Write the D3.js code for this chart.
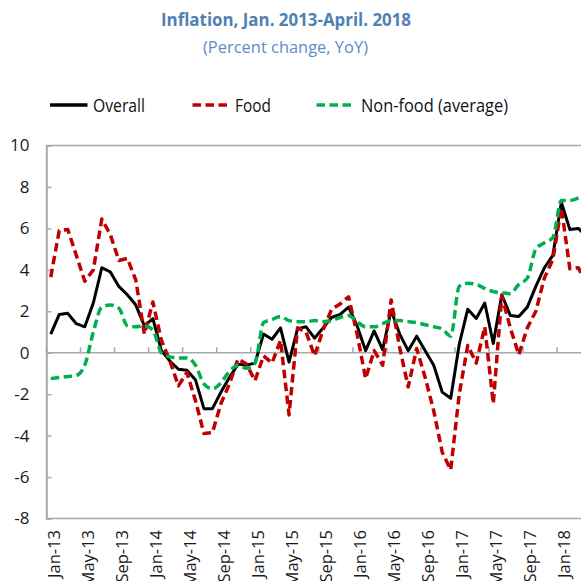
<!DOCTYPE html>
<html>
<head>
<meta charset="utf-8">
<script src="https://cdn.jsdelivr.net/npm/d3@7"></script>
<style>
  body { margin: 0; background: #fff; }
  svg { display: block; font-family: "Open Sans", sans-serif; }
</style>
</head>
<body>
<figure id="chart" style="margin:0"></figure>
<script>
// months Jan-13 .. Apr-18
const months = d3.timeMonths(new Date(2013, 0, 1), new Date(2018, 4, 1)).map(d3.timeFormat("%b-%y"));
const tickLabels = ["Jan-13", "May-13", "Sep-13", "Jan-14", "May-14", "Sep-14", "Jan-15", "May-15",
  "Sep-15", "Jan-16", "May-16", "Sep-16", "Jan-17", "May-17", "Sep-17", "Jan-18"];

const overall = [0.9, 1.85, 1.9, 1.4, 1.25, 2.4, 4.1, 3.9, 3.2, 2.8, 2.3, 1.3, 1.65, 0.1, -0.4, -0.8,
  -0.85, -1.3, -2.7, -2.7, -1.9, -1.2, -0.55, -0.6, -0.5, 0.9, 0.65, 1.2, -0.45, 1.15, 1.25, 0.7,
  1.2, 1.7, 1.85, 2.2, 1.3, 0.1, 1.05, 0.15, 2.05, 0.9, 0.1, 0.8, 0.1, -0.6, -1.9, -2.2,
  0.4, 2.1, 1.65, 2.4, 0.45, 2.8, 1.8, 1.75, 2.2, 3.2, 4.1, 4.7, 7.25, 5.95, 6.0, 5.6];
const food = [3.65, 5.9, 5.95, 4.7, 3.45, 4.0, 6.45, 5.7, 4.45, 4.55, 3.5, 0.9, 2.45, 0.6, -0.4, -1.6,
  -0.95, -2.3, -3.9, -3.85, -2.45, -1.5, -0.3, -0.55, -1.35, -0.15, -0.5, 0.6, -3.0, 1.2, 1.0, -0.15,
  1.1, 2.1, 2.35, 2.7, 0.9, -1.25, 0.1, -0.6, 2.55, 0.25, -1.65, 0.2, -1.2, -2.8, -4.8, -5.65,
  -2.0, 0.35, -0.5, 1.25, -2.45, 2.75, 1.2, -0.1, 1.2, 2.0, 3.6, 4.5, 7.0, 4.05, 4.1, 3.3];
const nonFood = [-1.25, -1.2, -1.15, -1.1, -0.6, 1.0, 2.2, 2.3, 2.15, 1.3, 1.25, 1.3, 1.1, 0.0, -0.2, -0.25,
  -0.25, -0.6, -1.5, -1.75, -1.45, -0.9, -0.6, -0.75, -0.5, 1.45, 1.6, 1.75, 1.55, 1.5, 1.5, 1.55,
  1.5, 1.55, 1.7, 1.8, 1.5, 1.25, 1.25, 1.4, 1.55, 1.55, 1.5, 1.45, 1.35, 1.25, 1.15, 0.8,
  3.2, 3.35, 3.3, 3.1, 2.95, 2.9, 2.85, 3.3, 3.6, 5.0, 5.3, 5.55, 7.35, 7.35, 7.45, 7.5];

const width = 581, height = 581;
const plotLeft = 46.5, plotTop = 145.5, plotBottom = 518.5, step = 8.51;

const svg = d3.select("figure#chart")
  .append("svg")
  .attr("width", width)
  .attr("height", height);

// title
svg.append("text")
  .attr("x", 161).attr("y", 25.5)
  .attr("textLength", 250).attr("lengthAdjust", "spacingAndGlyphs")
  .style("font-size", "18.5px").style("font-weight", "bold").attr("fill", "#4f81b3")
  .text("Inflation, Jan. 2013-April. 2018");
svg.append("text")
  .attr("x", 203).attr("y", 52.5)
  .attr("textLength", 165).attr("lengthAdjust", "spacingAndGlyphs")
  .style("font-size", "17px").attr("fill", "#5b8ec4")
  .text("(Percent change, YoY)");

// scales
const x = d3.scaleBand()
  .domain(months)
  .range([plotLeft, plotLeft + months.length * step]);
const cx = m => x(m) + x.bandwidth() / 2;

const y = d3.scaleLinear()
  .domain([-8, 10])
  .range([plotBottom, plotTop]);

// plot frame
svg.append("rect")
  .attr("x", plotLeft).attr("y", plotTop)
  .attr("width", months.length * step).attr("height", plotBottom - plotTop)
  .attr("fill", "none").attr("stroke", "#a9a9a9").attr("stroke-width", 1.5);

// y axis
const yAxis = svg.append("g")
  .attr("transform", "translate(" + plotLeft + ",0)")
  .call(d3.axisLeft(y).tickValues(d3.range(-8, 11, 2)).tickSize(-5).tickPadding(17).tickFormat(d => String(d)));
yAxis.select(".domain").attr("stroke", "#a9a9a9").attr("stroke-width", 1.5);
yAxis.selectAll(".tick line").attr("stroke", "#a9a9a9").attr("stroke-width", 1.5);
yAxis.selectAll("text").style("font-size", "17px").attr("fill", "#1a1a1a").attr("font-family", "Open Sans");

// zero line with category ticks
svg.append("line")
  .attr("x1", plotLeft).attr("x2", width)
  .attr("y1", y(0)).attr("y2", y(0))
  .attr("stroke", "#a9a9a9").attr("stroke-width", 1.5);
svg.selectAll(".xtick")
  .data(tickLabels)
  .enter()
  .append("line")
  .attr("x1", d => x(d)).attr("x2", d => x(d))
  .attr("y1", y(0)).attr("y2", y(0) - 5.5)
  .attr("stroke", "#a9a9a9").attr("stroke-width", 1.5);

// x labels (low position, rotated)
svg.selectAll(".xlabel")
  .data(tickLabels)
  .enter()
  .append("text")
  .attr("transform", d => "translate(" + (cx(d) + 3) + ",530)rotate(-90)")
  .attr("text-anchor", "end")
  .attr("dy", "0.35em")
  .style("font-size", "16.5px")
  .attr("fill", "#1a1a1a")
  .text(d => d);

// series
const line = d3.line()
  .x((d, i) => cx(months[i]))
  .y(d => y(d));

svg.append("path")
  .datum(overall)
  .attr("d", line)
  .attr("fill", "none").attr("stroke", "#000").attr("stroke-width", 3)
  .attr("stroke-linejoin", "round");

svg.append("path")
  .datum(food)
  .attr("d", line)
  .attr("fill", "none").attr("stroke", "#c00000").attr("stroke-width", 3.5)
  .attr("stroke-dasharray", "8.5,4.5").attr("stroke-linejoin", "round");

svg.append("path")
  .datum(nonFood)
  .attr("d", line.curve(d3.curveMonotoneX))
  .attr("fill", "none").attr("stroke", "#00b050").attr("stroke-width", 3.5)
  .attr("stroke-dasharray", "8.5,4.5").attr("stroke-linejoin", "round");

// legend
const legend = [
  { name: "Overall", color: "#000", dash: null, x1: 50, x2: 87.5, tx: 93, tl: 52 },
  { name: "Food", color: "#c00000", dash: "8.5,4.5", x1: 192.5, x2: 228, tx: 235, tl: 36 },
  { name: "Non-food (average)", color: "#00b050", dash: "8.5,4.5", x1: 316.5, x2: 352, tx: 361, tl: 147 }
];
const lg = svg.selectAll(".legend")
  .data(legend)
  .enter()
  .append("g");
lg.append("line")
  .attr("x1", d => d.x1).attr("x2", d => d.x2)
  .attr("y1", 105).attr("y2", 105)
  .attr("stroke", d => d.color).attr("stroke-width", 3.5)
  .attr("stroke-dasharray", d => d.dash);
lg.append("text")
  .attr("x", d => d.tx).attr("y", 111.5)
  .attr("textLength", d => d.tl).attr("lengthAdjust", "spacingAndGlyphs")
  .style("font-size", "18px").attr("fill", "#111")
  .text(d => d.name);
</script>
</body>
</html>
